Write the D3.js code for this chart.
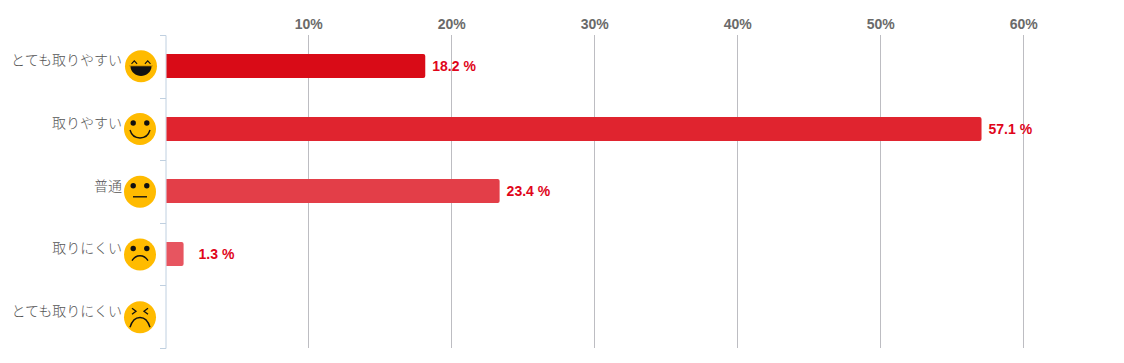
<!DOCTYPE html>
<html><head><meta charset="utf-8">
<script src="https://cdn.jsdelivr.net/npm/d3@7/dist/d3.min.js"></script>
<style>html,body{margin:0;padding:0;background:#fff}svg{display:block}</style>
</head><body><svg id="c" width="1124" height="363"></svg>
<script>
const categories = ["とても取りやすい","取りやすい","普通","取りにくい","とても取りにくい"];
const values = [18.2,57.1,23.4,1.3,null];
const valueLabels = ["18.2 %","57.1 %","23.4 %","1.3 %",""];
const barColors = ["#d90b17","#e0242f","#e33e48","#e75560","#ea6b75"];
const tickValues = [10,20,30,40,50,60];
const faces = ["laugh","smile","neutral","sad","angry"];

const svg = d3.select("#c");
const x = d3.scaleLinear().domain([0,65]).range([165.2,1094.7]);
const y = d3.scaleBand().domain(categories).range([35,348]);
const sans = "'Liberation Sans',Arial,sans-serif";

// gridlines
svg.append("g").selectAll("line").data(tickValues).join("line")
  .attr("x1",d=>Math.floor(x(d))+.5).attr("x2",d=>Math.floor(x(d))+.5)
  .attr("y1",35).attr("y2",348).attr("stroke","#bdbdc2").attr("stroke-width",1);

// top axis labels
const xAxis = d3.axisTop(x).tickValues(tickValues).tickFormat(d=>d+"%").tickSize(0).tickPadding(0);
const gx = svg.append("g").attr("transform","translate(0,29)").call(xAxis);
gx.select(".domain").remove();
gx.selectAll("text").attr("font-family",sans).attr("font-size",14).attr("font-weight","bold").attr("fill","#6a6a6a");

// left axis
const yAxis = d3.axisLeft(y).tickSize(0).tickFormat("");
const gy = svg.append("g").attr("transform","translate(165.5,0)").call(yAxis);
gy.select(".domain").attr("stroke","#c0d0e0").attr("stroke-width",1);
const bounds = categories.map(c=>y(c)).concat([348]);
svg.append("g").selectAll("line").data(bounds).join("line")
  .attr("x1",160).attr("x2",166).attr("y1",d=>Math.round(d)+.5).attr("y2",d=>Math.round(d)+.5)
  .attr("stroke","#c0d0e0");

// bars
const barH = 24;
const mid = c => y(c)+y.bandwidth()/2;
const rows = categories.map((c,i)=>({c,v:values[i],i})).filter(d=>d.v);
svg.append("g").selectAll("path").data(rows)
  .join("path").attr("fill",d=>barColors[d.i])
  .attr("d",d=>{
    const x0=x(0)+1.3, x1=x(d.v)-.2, t=Math.floor(mid(d.c)-barH/2+.2), b=t+barH, r=2;
    return `M${x0},${t}H${x1-r}Q${x1},${t} ${x1},${t+r}V${b-r}Q${x1},${b} ${x1-r},${b}H${x0}Z`;
  });

// value labels
const labelOffset = [7,7,7,15];
svg.append("g").selectAll("text").data(rows)
  .join("text").attr("x",d=>x(d.v)-.2+labelOffset[d.i]).attr("y",d=>Math.floor(mid(d.c)+.2)+5)
  .attr("font-family",sans).attr("font-size",14).attr("font-weight","bold").attr("fill","#e0051a")
  .text(d=>valueLabels[d.i]);

// category labels
svg.append("g").selectAll("text").data(categories).join("text")
  .attr("x",122).attr("y",d=>mid(d)-1)
  .attr("text-anchor","end").attr("font-family","'Noto Sans CJK JP',sans-serif").attr("font-size",14)
  .attr("fill","#555").style("font-weight",300).text(d=>d);

// faces
const faceCy = d3.scalePoint().domain(categories).range([66.3,317.3]);
const faceG = svg.append("g").selectAll("g").data(categories).join("g")
  .attr("transform",(d,i)=>`translate(${i===0?141:140},${faceCy(d)})`);
faceG.append("circle").attr("r",16).attr("fill","#ffbb00");
faceG.each(function(d,i){
  const g=d3.select(this), kind=faces[i], st=(p,w)=>g.append("path").attr("d",p).attr("fill","none").attr("stroke","#111").attr("stroke-width",w);
  const eyes=()=>{[-6.8,6.8].forEach(ex=>g.append("circle").attr("cx",ex).attr("cy",-6).attr("r",2.7).attr("fill","#111"));};
  if(kind==="laugh"){
    st("M-9.5,-2.5L-6.7,-5.5L-3.9,-2.5",1.1); st("M3.9,-2.5L6.7,-5.5L9.5,-2.5",1.1);
    st("M-12,-.5H12",1.2).attr("stroke","#d99a00");
    g.append("path").attr("d","M-10.5,0H10.5C10.5,6 5,9.7 0,9.7C-5,9.7 -10.5,6 -10.5,0Z").attr("fill","#111");
  } else if(kind==="smile"){
    eyes(); st("M-10,1C-7,11.5 7,11.5 10,1",1.4);
  } else if(kind==="neutral"){
    eyes(); st("M-7,5H7",1.4);
  } else if(kind==="sad"){
    eyes(); st("M-8,6C-4,-0.5 4,-0.5 8,6",1.4);
  } else {
    st("M-8,-9L-4,-6L-8,-3",1.3); st("M8,-9L4,-6L8,-3",1.3);
    st("M-10,10C-6,-3 6,-3 10,10",1.4);
  }
});
</script></body></html>
